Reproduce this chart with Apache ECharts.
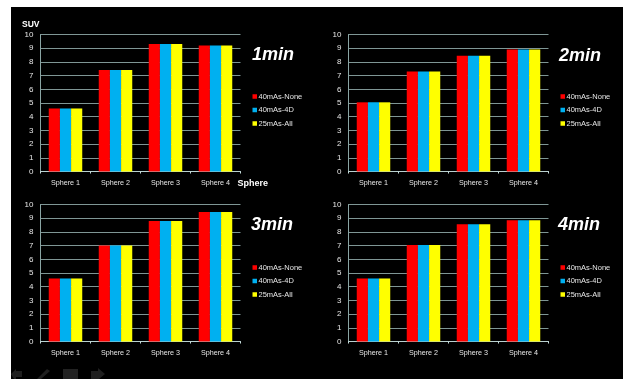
<!DOCTYPE html>
<html><head><meta charset="utf-8">
<style>
html,body{margin:0;padding:0;background:#fff;width:623px;height:379px;overflow:hidden}
#bg{position:absolute;left:11px;top:7px;width:612px;height:372px;background:#000}
#c{position:absolute;left:0;top:0;width:623px;height:379px;filter:blur(0.45px)}
</style>
<script src="https://cdn.jsdelivr.net/npm/echarts@6/dist/echarts.min.js"></script>
</head><body><div id="bg"></div><div id="c"></div>
<script>
const categories = ['Sphere 1','Sphere 2','Sphere 3','Sphere 4'];
const seriesNames = ['40mAs-None','40mAs-4D','25mAs-All'];
const seriesColors = ['#ff0000','#00b0f0','#ffff00'];
const panelTitles = ['1min','2min','3min','4min'];
const none1 = [4.6,7.4,9.3,9.2], d4_1 = [4.6,7.4,9.3,9.2], all1 = [4.6,7.4,9.3,9.2];
const none2 = [5.05,7.3,8.45,8.9], d4_2 = [5.05,7.3,8.45,8.9], all2 = [5.05,7.3,8.45,8.9];
const none3 = [4.6,7.0,8.8,9.45], d4_3 = [4.6,7.0,8.8,9.45], all3 = [4.6,7.0,8.8,9.45];
const none4 = [4.6,7.05,8.55,8.85], d4_4 = [4.6,7.05,8.55,8.85], all4 = [4.6,7.05,8.55,8.85];
const panelValues = [[none1,d4_1,all1],[none2,d4_2,all2],[none3,d4_3,all3],[none4,d4_4,all4]];
const yAxisName = 'SUV', xAxisName = 'Sphere';

const layout = [
 {l:40.5,t:34.5,titleX:252,titleY:46,legX:252.5,legY:92},
 {l:348.5,t:34.5,titleX:559,titleY:47,legX:560.5,legY:92},
 {l:40.5,t:204.5,titleX:251,titleY:216,legX:252.5,legY:263},
 {l:348.5,t:204.5,titleX:558,titleY:216,legX:560.5,legY:263}
];
const W=200,H=137;
const font='"Liberation Sans",Arial,sans-serif';
const line='#7f9695';
const option={animation:false,backgroundColor:'transparent',grid:[],xAxis:[],yAxis:[],series:[],legend:[],title:[],
 graphic:[
  {type:'polygon',shape:{points:[[11,374],[16,369],[16,371],[22,371],[22,377],[16,377],[16,379],[14,379]]},style:{fill:'#1f1f1f'}},
  {type:'polygon',shape:{points:[[37,379],[47,369],[50,371],[41,379]]},style:{fill:'#1f1f1f'}},
  {type:'rect',shape:{x:63,y:369,width:15,height:10},style:{fill:'#222222'}},
  {type:'polygon',shape:{points:[[91,371],[98,371],[98,368],[105,374],[99,379],[91,379]]},style:{fill:'#1f1f1f'}}
 ]};
layout.forEach((p,i)=>{
 option.grid.push({left:p.l,top:p.t,width:W,height:H,containLabel:false});
 option.xAxis.push({type:'category',gridIndex:i,data:categories,
  name:i===0?xAxisName:'',nameLocation:'end',nameGap:-3,
  nameTextStyle:{color:'#fff',fontFamily:font,fontWeight:'bold',fontSize:9,padding:[8,0,0,0],verticalAlign:'top'},
  axisLine:{lineStyle:{color:'#b9d2d1',width:1}},
  axisTick:{show:true,alignWithLabel:false,length:2,lineStyle:{color:'#c5dbda'}},
  axisLabel:{color:'#e6e6e6',fontFamily:font,fontSize:7.2,margin:8,interval:0},splitLine:{show:false}});
 option.yAxis.push({type:'value',gridIndex:i,min:0,max:10,interval:1,
  name:i===0?yAxisName:'',nameLocation:'end',nameGap:5,
  nameTextStyle:{color:'#fff',fontFamily:font,fontWeight:'bold',fontSize:8.5,align:'right',padding:[0,1,0,0]},
  axisLine:{show:true,lineStyle:{color:'#8aa5a4',width:1}},
  axisTick:{show:false},
  axisLabel:{color:'#e6e6e6',fontFamily:font,fontSize:8,margin:7},
  splitLine:{show:true,lineStyle:{color:line,width:1}}});
 seriesNames.forEach((n,k)=>option.series.push({type:'bar',name:n,xAxisIndex:i,yAxisIndex:i,data:panelValues[i][k],
  itemStyle:{color:seriesColors[k]},barGap:'0%',barCategoryGap:'33%'}));
 option.legend.push({orient:'vertical',left:p.legX,top:p.legY,itemWidth:4.5,itemHeight:4.5,itemGap:4.5,padding:0,icon:'rect',
  data:seriesNames,selectedMode:false,textStyle:{color:'#e6e6e6',fontFamily:font,fontSize:7.5,padding:[0,0,0,-3.5],lineHeight:9}});
 option.title.push({text:panelTitles[i],left:p.titleX,top:p.titleY,padding:0,
  textStyle:{color:'#fff',fontFamily:font,fontWeight:'bold',fontStyle:'italic',fontSize:18}});
});
echarts.init(document.getElementById('c'),null,{renderer:'canvas'}).setOption(option);
</script></body></html>
